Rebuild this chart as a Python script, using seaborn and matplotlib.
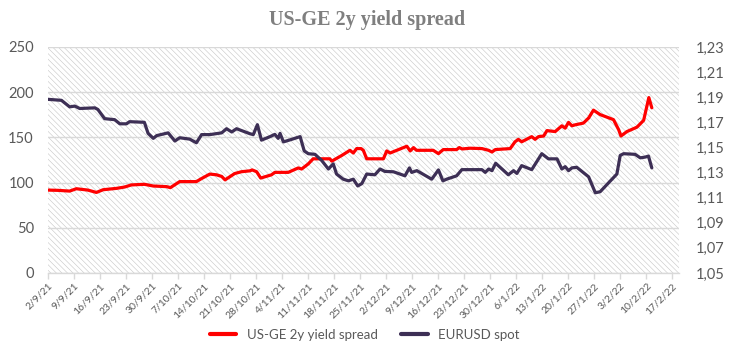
import numpy as np
import pandas as pd
import matplotlib
matplotlib.use("Agg")
import matplotlib.pyplot as plt
import seaborn as sns
from matplotlib.ticker import FuncFormatter

# ---------------- data ----------------
start_date = "2021-09-02"

spread_days = [0, 2.8, 5.9, 7.7, 10.8, 13.1, 14.9, 18.5, 20.7, 22.5, 26, 28.4, 32, 33,
               35.5, 40, 41.4, 43.6, 45.4, 46.8, 47.7, 50.3, 52.1, 54.4, 55, 56.2, 57.3,
               60.2, 61.1, 64.7, 67.4, 68.3, 70.1, 71.4, 73.7, 75.9, 76.4, 79.1, 81.3,
               82.2, 83.1, 84.3, 84.9, 85.8, 90.3, 91.2, 92.1, 96.6, 97.5, 98.4, 99.2,
               103.7, 105.1, 106.4, 110, 110.7, 111.5, 113.6, 116.8, 118.6, 119.5, 120.4,
               124.4, 125.7, 126.6, 127.5, 130.2, 131.1, 132, 133.4, 134.3, 136.5, 138.3,
               139.2, 140.1, 141, 141.9, 144.1, 145.5, 146.8, 148.6, 152.2, 153.6, 154.2,
               155.8, 158.5, 160.3, 161.7, 162.5]
spread_vals = [91.7, 91.4, 90.6, 93.2, 91.7, 89.1, 92.1, 93.6, 95.1, 97.4, 98.1, 96.2, 95.5, 94.4,
               101.1, 101.1, 104.5, 109.4, 108.6, 106.8, 103.0, 110.0, 112.0, 113.0, 114.0, 112.0, 105.0,
               108.6, 111.3, 111.3, 116.2, 115.0, 120.7, 126.3, 126.3, 126.3, 123.7, 130.0, 135.7,
               132.7, 137.6, 137.6, 135.7, 126.3, 126.3, 135.0, 132.7, 140.2, 135.0, 138.7, 135.7,
               135.7, 132.0, 136.5, 136.5, 138.7, 137.2, 138.0, 137.6, 135.7, 133.8, 136.5,
               137.6, 145.1, 147.8, 145.1, 150.8, 147.8, 150.8, 151.5, 157.5, 156.4, 162.8,
               160.2, 166.6, 162.8, 163.9, 165.8, 171.4, 180.1, 175.2, 169.6, 158.3, 151.5,
               156.4, 161.3, 168.8, 194.0, 182.7]

eur_days = [0, 3.7, 5.9, 7.3, 8.6, 12.7, 13.5, 15.3, 18, 19.4, 21.2, 22, 26, 27, 28.4, 29.3,
            32.4, 34.2, 35.5, 38.2, 40, 41.4, 43.6, 46.8, 48.1, 49.5, 50.8, 54.4, 55.3, 56.4,
            57.5, 59.8, 61.1, 62, 62.5, 63.4, 65.6, 67.9, 69, 70.1, 71.9, 73.7, 75.5, 76.8,
            77.7, 79.5, 80.9, 82.2, 83.4, 84.5, 85.8, 88, 89.4, 90.7, 93, 96.1, 97.3, 97.9,
            99.3, 103.3, 105.1, 106.3, 107.3, 110, 111.4, 116.8, 117.7, 118.6, 119.5, 120.5,
            122.2, 123.9, 125.3, 126.2, 127.5, 130.2, 132.9, 134.7, 137, 138.3, 139.2, 140.1,
            141, 142.3, 145.5, 147.3, 148.6, 153.1, 154, 154.9, 158, 159.4, 160.7, 161.6, 162.5]
eur_vals = [1.1883, 1.1875, 1.1823, 1.1829, 1.1810, 1.1815, 1.1802, 1.1729, 1.1721, 1.1688,
            1.1688, 1.1705, 1.1700, 1.1612, 1.1572, 1.1594, 1.1616, 1.1551, 1.1577, 1.1566,
            1.1537, 1.1602, 1.1602, 1.1616, 1.1649, 1.1623, 1.1649, 1.1609, 1.1602, 1.1681,
            1.1558, 1.1586, 1.1604, 1.1572, 1.1612, 1.1544, 1.1564, 1.1586, 1.1472, 1.1450,
            1.1445, 1.1396, 1.1328, 1.1369, 1.1288, 1.1247, 1.1234, 1.1247, 1.1193, 1.1212,
            1.1288, 1.1282, 1.1328, 1.1309, 1.1306, 1.1274, 1.1337, 1.1301, 1.1315, 1.1247,
            1.1321, 1.1234, 1.1247, 1.1274, 1.1323, 1.1323, 1.1301, 1.1328, 1.1315, 1.1374,
            1.1328, 1.1282, 1.1315, 1.1293, 1.1355, 1.1323, 1.1450, 1.1409, 1.1409, 1.1328,
            1.1347, 1.1315, 1.1337, 1.1342, 1.1266, 1.1139, 1.1147, 1.1288, 1.1436, 1.1450,
            1.1445, 1.1417, 1.1423, 1.1431, 1.1337]

tick_labels = ["2/9/21", "9/9/21", "16/9/21", "23/9/21", "30/9/21", "7/10/21", "14/10/21",
               "21/10/21", "28/10/21", "4/11/21", "11/11/21", "18/11/21", "25/11/21",
               "2/12/21", "9/12/21", "16/12/21", "23/12/21", "30/12/21", "6/1/22", "13/1/22",
               "20/1/22", "27/1/22", "3/2/22", "10/2/22", "17/2/22"]

left_ticks = [0, 50, 100, 150, 200, 250]
right_ticks = [1.05, 1.07, 1.09, 1.11, 1.13, 1.15, 1.17, 1.19, 1.21, 1.23]

title = "US-GE 2y yield spread"
spread_label = "US-GE 2y yield spread"
eur_label = "EURUSD spot"

# ---------------- build ----------------
start = pd.Timestamp(start_date)
df_spread = pd.DataFrame({"date": start + pd.to_timedelta(spread_days, unit="D"),
                          "value": spread_vals})
df_eur = pd.DataFrame({"date": start + pd.to_timedelta(eur_days, unit="D"),
                       "value": eur_vals})
tick_dates = pd.to_datetime(tick_labels, format="%d/%m/%y")

sns.set_style("white")
plt.rcParams["font.family"] = ["Lato", "DejaVu Sans"]
plt.rcParams["hatch.linewidth"] = 0.4

fig = plt.figure(figsize=(7.34, 3.64), dpi=100)
ax = fig.add_axes([0.065, 0.25, 0.860, 0.621])
ax2 = ax.twinx()

text_col = "#595959"
grid_col = "#d9d9d9"

# hatched plot background
ax.patch.set_facecolor("white")
ax.patch.set_hatch("\\" * 6)
ax.patch.set_edgecolor("#c6c6c6")
ax.patch.set_linewidth(0)

sns.lineplot(data=df_spread, x="date", y="value", ax=ax, color="#ff0000",
             linewidth=2.3, label=spread_label)
sns.lineplot(data=df_eur, x="date", y="value", ax=ax2, color="#3d2f55",
             linewidth=2.3, label=eur_label)

ax.set_ylim(0, 250)
ax2.set_ylim(1.05, 1.23)
ax.set_xlim(start, start + pd.Timedelta(days=169.8))

ax.set_yticks(left_ticks)
ax2.set_yticks(right_ticks)
ax2.yaxis.set_major_formatter(FuncFormatter(lambda v, p: f"{v:.2f}".replace(".", ",")))

ax.set_xticks(tick_dates)
ax.set_xticklabels(tick_labels, rotation=45, ha="right", rotation_mode="anchor",
                   fontsize=7.5, color=text_col)

ax.yaxis.grid(True, color=grid_col, linewidth=1)
ax.xaxis.grid(False)
ax2.grid(False)

for a in (ax, ax2):
    for s in a.spines.values():
        s.set_visible(False)
ax.spines["bottom"].set_visible(True)
ax.spines["bottom"].set_color(grid_col)
ax.spines["bottom"].set_linewidth(1)

ax.tick_params(axis="y", length=0, labelsize=10.5, labelcolor=text_col, pad=10)
ax2.tick_params(axis="y", length=0, labelsize=10.5, labelcolor=text_col, pad=12)
ax.tick_params(axis="x", length=4, color=grid_col, width=1, pad=2, bottom=True)

ax.set_xlabel("")
ax.set_ylabel("")
ax2.set_ylabel("")

h1, l1 = ax.get_legend_handles_labels()
h2, l2 = ax2.get_legend_handles_labels()
if ax.get_legend():
    ax.get_legend().remove()
if ax2.get_legend():
    ax2.get_legend().remove()
leg = fig.legend(h1 + h2, l1 + l2, loc="center", bbox_to_anchor=(0.497, 0.08), ncol=2,
                 frameon=False, fontsize=9.5, handlelength=2.0, columnspacing=1.8,
                 handletextpad=0.8)
for t in leg.get_texts():
    t.set_color(text_col)
for lh in leg.get_lines():
    lh.set_linewidth(3)

fig.text(0.5, 0.945, title, ha="center", va="center", fontsize=14.5, fontweight="bold",
         color="#7f7f7f", family=["Liberation Serif", "DejaVu Serif"])

fig.savefig("out.png", dpi=100)
